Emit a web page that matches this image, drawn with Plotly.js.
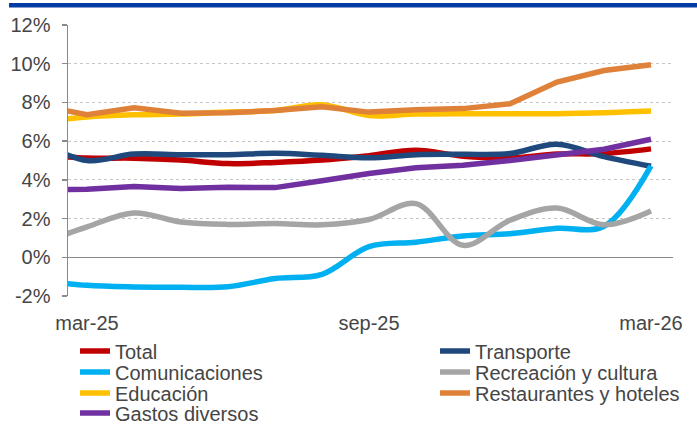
<!DOCTYPE html>
<html>
<head>
<meta charset="utf-8">
<script src="https://cdn.plot.ly/plotly-3.0.1.min.js"></script>
<style>html,body{margin:0;padding:0;background:#fff;}#chart{width:697px;height:425px;}</style>
</head>
<body>
<div id="chart"></div>
<script>
// Months (feb-25 is just left of the visible axis range)
var months = ["feb-25","mar-25","abr-25","may-25","jun-25","jul-25","ago-25","sep-25","oct-25","nov-25","dic-25","ene-26","feb-26","mar-26"];
var tickLabels = ["mar-25","sep-25","mar-26"];
var yTickVals = [-2, 0, 2, 4, 6, 8, 10, 12];
var yTickText = ["-2%","0%","2%","4%","6%","8%","10%","12%"];

var total          = [5.30, 5.13, 5.12, 5.02, 4.84, 4.90, 5.02, 5.25, 5.53, 5.22, 5.13, 5.33, 5.36, 5.60];
var transporte     = [5.95, 5.00, 5.33, 5.30, 5.30, 5.37, 5.27, 5.14, 5.30, 5.32, 5.36, 5.84, 5.20, 4.70];
var comunicaciones = [-1.20, -1.45, -1.53, -1.55, -1.52, -1.10, -0.88, 0.55, 0.78, 1.10, 1.22, 1.50, 1.60, 4.72];
var recreacion     = [0.70, 1.57, 2.29, 1.82, 1.70, 1.74, 1.68, 1.95, 2.77, 0.62, 1.91, 2.54, 1.68, 2.39];
var educacion      = [7.00, 7.25, 7.36, 7.40, 7.50, 7.58, 7.88, 7.32, 7.40, 7.42, 7.42, 7.42, 7.47, 7.56];
var restaurantes   = [7.85, 7.36, 7.72, 7.44, 7.47, 7.58, 7.78, 7.50, 7.62, 7.68, 7.93, 9.05, 9.65, 9.95];
var gastos         = [3.50, 3.51, 3.66, 3.55, 3.62, 3.60, 3.95, 4.33, 4.62, 4.75, 5.00, 5.30, 5.58, 6.10];

var seriesNames = ["Total","Transporte","Comunicaciones","Recreación y cultura","Educación","Restaurantes y hoteles","Gastos diversos"];
var seriesData = [total, transporte, comunicaciones, recreacion, educacion, restaurantes, gastos];
var seriesColors = ["#C00000","#1F497D","#00B0F0","#A5A5A5","#FFC000","#DF8139","#7030A0"];
var seriesShape = ["spline","spline","spline","spline","spline","linear","linear"];

var FONT = "Liberation Sans, Arial, sans-serif";
var TXT = "#454545";

var xIdx = months.map(function(m, i){ return i; });

// legend placement (container fractions): two columns, four rows
var legCol = [0.1076, 0.6241];
var legRow = [0.1741, 0.1247, 0.0753, 0.0282];

var traces = [];
var layoutLegends = {};
seriesNames.forEach(function(name, i){
  var lname = i === 0 ? "legend" : "legend" + (i + 1);
  traces.push({
    type: "scatter",
    mode: "lines",
    name: name,
    x: xIdx,
    y: seriesData[i],
    line: {color: seriesColors[i], width: 5.5, shape: seriesShape[i], smoothing: 1},
    legend: lname,
    hoverinfo: "skip"
  });
  layoutLegends[lname] = {
    xref: "container", yref: "container",
    x: legCol[i % 2], y: legRow[Math.floor(i / 2)],
    xanchor: "left", yanchor: "middle",
    bgcolor: "rgba(0,0,0,0)", borderwidth: 0,
    font: {family: FONT, size: 20, color: TXT},
    itemclick: false, itemdoubleclick: false
  };
});

var layout = {
  width: 697, height: 425,
  margin: {l: 68, r: 24, t: 25, b: 129, pad: 0, autoexpand: false},
  paper_bgcolor: "#ffffff", plot_bgcolor: "#ffffff",
  showlegend: true,
  xaxis: {
    type: "linear",
    range: [0.596, 13.468],
    showgrid: false, zeroline: false, showline: false,
    ticks: "",
    tickmode: "array",
    tickvals: tickLabels.map(function(t){ return months.indexOf(t); }),
    ticktext: tickLabels,
    ticklabelstandoff: 13,
    tickfont: {family: FONT, size: 20, color: TXT},
    fixedrange: true
  },
  yaxis: {
    range: [-2, 12],
    tickmode: "array", tickvals: yTickVals, ticktext: yTickText,
    showgrid: true, gridcolor: "#c6c6c6", gridwidth: 1, griddash: "dot",
    zeroline: true, zerolinecolor: "#8a8a8a", zerolinewidth: 1.5,
    showline: true, linecolor: "#8a8a8a", linewidth: 1.5,
    ticks: "outside", ticklen: 5, tickcolor: "#8a8a8a", tickwidth: 1.5,
    ticklabelstandoff: 7,
    tickfont: {family: FONT, size: 20, color: TXT},
    fixedrange: true
  },
  shapes: [{
    type: "rect", xref: "paper", yref: "paper",
    x0: -0.0975, x1: 1.04, y0: 1.0646, y1: 1.081,
    fillcolor: "#003DA5", line: {width: 0}, layer: "above"
  }]
};
Object.keys(layoutLegends).forEach(function(k){ layout[k] = layoutLegends[k]; });

Plotly.newPlot("chart", traces, layout, {staticPlot: true, displayModeBar: false});
</script>
</body>
</html>
